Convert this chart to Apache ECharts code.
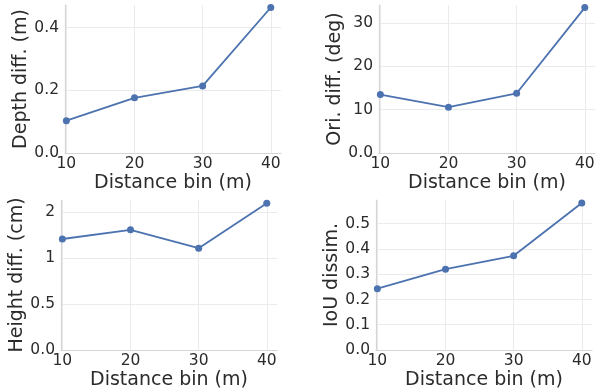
<!DOCTYPE html>
<html>
<head>
<meta charset="utf-8">
<script src="https://cdn.jsdelivr.net/npm/echarts@6/dist/echarts.min.js"></script>
<style>html,body{margin:0;padding:0;background:#fff;}#c{width:600px;height:391px;}</style>
</head>
<body>
<div id="c"></div>
<script>
// Data
const distanceBins = [10, 20, 30, 40];
const xTickLabels = ['10', '20', '30', '40'];

const depthDiff = [0.103, 0.176, 0.214, 0.464];
const oriDiff = [13.5, 10.6, 13.8, 33.6];
const heightDiff = [1.21, 1.31, 1.11, 1.60];
const iouDissim = [0.243, 0.320, 0.373, 0.582];

const depthTicks = [0, 0.2, 0.4];
const depthTickLabels = ['0.0', '0.2', '0.4'];
const oriTicks = [0, 10, 20, 30];
const oriTickLabels = ['0.0', '10', '20', '30'];
const heightTicks = [0, 0.5, 1.0, 1.5];
const heightTickLabels = ['0.0', '0.5', '1', '2'];
const iouTicks = [0, 0.1, 0.2, 0.3, 0.4, 0.5];
const iouTickLabels = ['0.0', '0.1', '0.2', '0.3', '0.4', '0.5'];

const panels = [
  { name: 'Depth diff. (m)', data: depthDiff, ticks: depthTicks, labels: depthTickLabels, ymax: 0.472,
    grid: { left: 65, right: 319, top: 5, height: 148 } },
  { name: 'Ori. diff. (deg)', data: oriDiff, ticks: oriTicks, labels: oriTickLabels, ymax: 34.2,
    grid: { left: 379, right: 5, top: 5, height: 148 } },
  { name: 'Height diff. (cm)', data: heightDiff, ticks: heightTicks, labels: heightTickLabels, ymax: 1.635,
    grid: { left: 61, right: 323, top: 200, height: 150 } },
  { name: 'IoU dissim.', data: iouDissim, ticks: iouTicks, labels: iouTickLabels, ymax: 0.594,
    grid: { left: 376, right: 8, top: 200, height: 150 } }
];

const FONT = 'DejaVu Sans';
const TXT = '#2b2b2b';
const GRIDC = '#ebebeb';
const SPINE = '#d5d5d5';
const BLUE = '#4c72b0';

const option = { animation: false, backgroundColor: '#fff', grid: [], xAxis: [], yAxis: [], series: [] };

panels.forEach((p, i) => {
  option.grid.push(Object.assign({ containLabel: false }, p.grid));
  option.xAxis.push({
    type: 'value', gridIndex: i, min: 9.8, max: 41.5,
    name: 'Distance bin (m)', nameLocation: 'middle', nameGap: 21,
    nameTextStyle: { fontFamily: FONT, fontSize: 19, color: TXT },
    axisLine: { show: true, lineStyle: { color: SPINE, width: 1.2 } },
    axisTick: { show: false, customValues: distanceBins },
    axisLabel: { customValues: distanceBins, fontFamily: FONT, fontSize: 15.5, color: TXT, margin: 3,
      formatter: v => xTickLabels[distanceBins.indexOf(v)] },
    splitLine: { show: true, lineStyle: { color: GRIDC, width: 1 } }
  });
  option.yAxis.push({
    type: 'value', gridIndex: i, min: 0, max: p.ymax,
    name: p.name, nameLocation: 'middle', nameGap: 32,
    nameTextStyle: { fontFamily: FONT, fontSize: 19, color: TXT },
    axisLine: { show: true, lineStyle: { color: SPINE, width: 1.2 } },
    axisTick: { show: false, customValues: p.ticks },
    axisLabel: { customValues: p.ticks, fontFamily: FONT, fontSize: 15.5, color: TXT, margin: 6,
      formatter: v => { const k = p.ticks.findIndex(t => Math.abs(t - v) < 1e-9); return k >= 0 ? p.labels[k] : ''; } },
    splitLine: { show: true, lineStyle: { color: GRIDC, width: 1 } }
  });
  option.series.push({
    type: 'line', xAxisIndex: i, yAxisIndex: i,
    data: distanceBins.map((x, k) => [x, p.data[k]]),
    symbol: 'circle', symbolSize: 7,
    lineStyle: { color: BLUE, width: 1.8 },
    itemStyle: { color: BLUE }
  });
});

const chart = echarts.init(document.getElementById('c'), null, { renderer: 'canvas' });
chart.setOption(option);
</script>
</body>
</html>
